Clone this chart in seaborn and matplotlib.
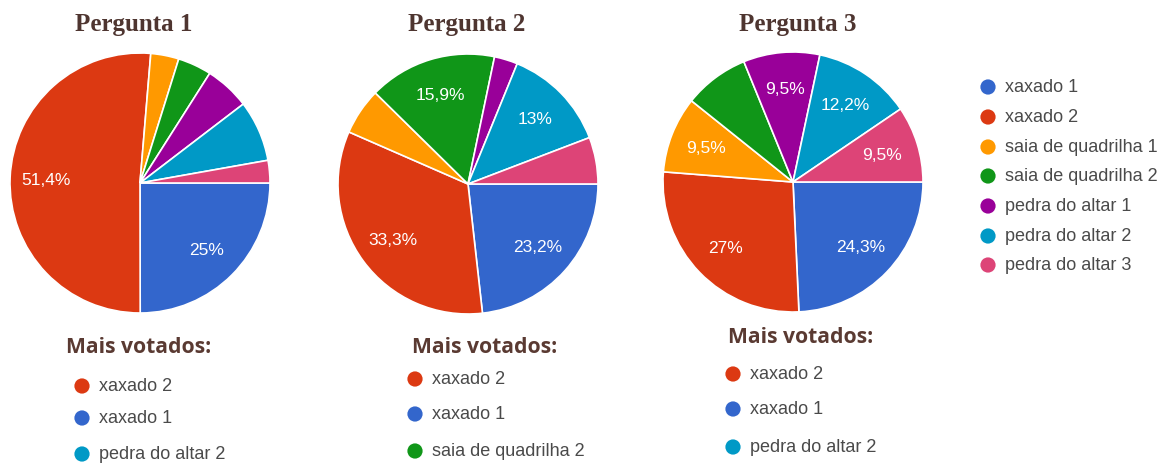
import matplotlib
matplotlib.use("Agg")
import matplotlib.pyplot as plt
import seaborn as sns

# Vote shares (%) per costume, in the order the slices are drawn
categories = ["xaxado 1", "xaxado 2", "saia de quadrilha 1", "saia de quadrilha 2",
              "pedra do altar 1", "pedra do altar 2", "pedra do altar 3"]
pergunta1 = [25.0, 51.4, 3.5, 4.2, 5.6, 7.6, 2.8]
pergunta2 = [23.2, 33.3, 5.8, 15.9, 2.9, 13.0, 5.8]
pergunta3 = [24.3, 27.0, 9.5, 8.1, 9.5, 12.2, 9.5]
titles = ["Pergunta 1", "Pergunta 2", "Pergunta 3"]
top_voted = [
    ["xaxado 2", "xaxado 1", "pedra do altar 2"],
    ["xaxado 2", "xaxado 1", "saia de quadrilha 2"],
    ["xaxado 2", "xaxado 1", "pedra do altar 2"],
]
palette = ["#3366cc", "#dc3912", "#ff9900", "#109618", "#990099", "#0099c6", "#dd4477"]

sns.set_theme(style="white")
plt.rcParams["font.family"] = ["Liberation Sans", "DejaVu Sans"]
colors = dict(zip(categories, sns.color_palette(palette)))

W, H = 1168, 464
fig = plt.figure(figsize=(W / 100, H / 100), dpi=100)
fig.patch.set_facecolor("white")

R = 130
pie_centers = [(140, 184), (468, 185), (793, 183)]
title_x = [134, 467, 798]
heading_pos = [(66, 348), (412, 348), (728, 338)]
item_x = [82, 415, 733]
item_ys = [[387, 419, 455], [380, 415, 452], [375, 410, 448]]

title_color = "#4e3530"
heading_color = "#5a3a32"
text_color = "#4a4a4a"


def fmt(v):
    s = f"{v:.1f}".rstrip("0").rstrip(".")
    return s.replace(".", ",") + "%"


for values, (cx, cy) in zip([pergunta1, pergunta2, pergunta3], pie_centers):
    ax = fig.add_axes([(cx - R) / W, (H - cy - R) / H, 2 * R / W, 2 * R / H])
    wedges, texts = ax.pie(
        values,
        colors=[colors[c] for c in categories],
        startangle=0,
        counterclock=False,
        labels=[fmt(v) if v >= 9 else "" for v in values],
        labeldistance=0.72,
        wedgeprops=dict(edgecolor="white", linewidth=1.2),
        textprops=dict(color="white", fontsize=12.5, ha="center", va="center"),
    )
    ax.set_xlim(-1, 1)
    ax.set_ylim(-1, 1)
    ax.set_aspect("equal")

# Overlay for titles, headings and legend entries, in pixel units
ov = fig.add_axes([0, 0, 1, 1])
ov.patch.set_alpha(0)

for t, x in zip(titles, title_x):
    ov.text(x, 25, t, ha="center", va="center", fontsize=18, fontweight="bold",
            family=["Liberation Serif", "DejaVu Serif"], color=title_color)

dot_x, dot_y, dot_c = [], [], []
for (hx, hy), ix, ys, names in zip(heading_pos, item_x, item_ys, top_voted):
    ov.text(hx, hy, "Mais votados:", ha="left", va="center", fontsize=15.2,
            fontweight="bold", family=["Open Sans", "DejaVu Sans"], color=heading_color)
    for y, name in zip(ys, names):
        dot_x.append(ix)
        dot_y.append(y)
        dot_c.append(name)
        ov.text(ix + 17, y, name, ha="left", va="center", fontsize=13, color=text_color)

# Shared legend on the right
leg_x = 988
leg_ys = [88, 118, 148, 177, 207, 237, 266]
for y, name in zip(leg_ys, categories):
    dot_x.append(leg_x)
    dot_y.append(y)
    dot_c.append(name)
    ov.text(leg_x + 17, y, name, ha="left", va="center", fontsize=13, color=text_color)

sns.scatterplot(x=dot_x, y=dot_y, hue=dot_c, palette=colors, s=120,
                edgecolor="none", legend=False, ax=ov)
ov.set_xlim(0, W)
ov.set_ylim(H, 0)
ov.axis("off")

fig.savefig("out.png", dpi=100)
